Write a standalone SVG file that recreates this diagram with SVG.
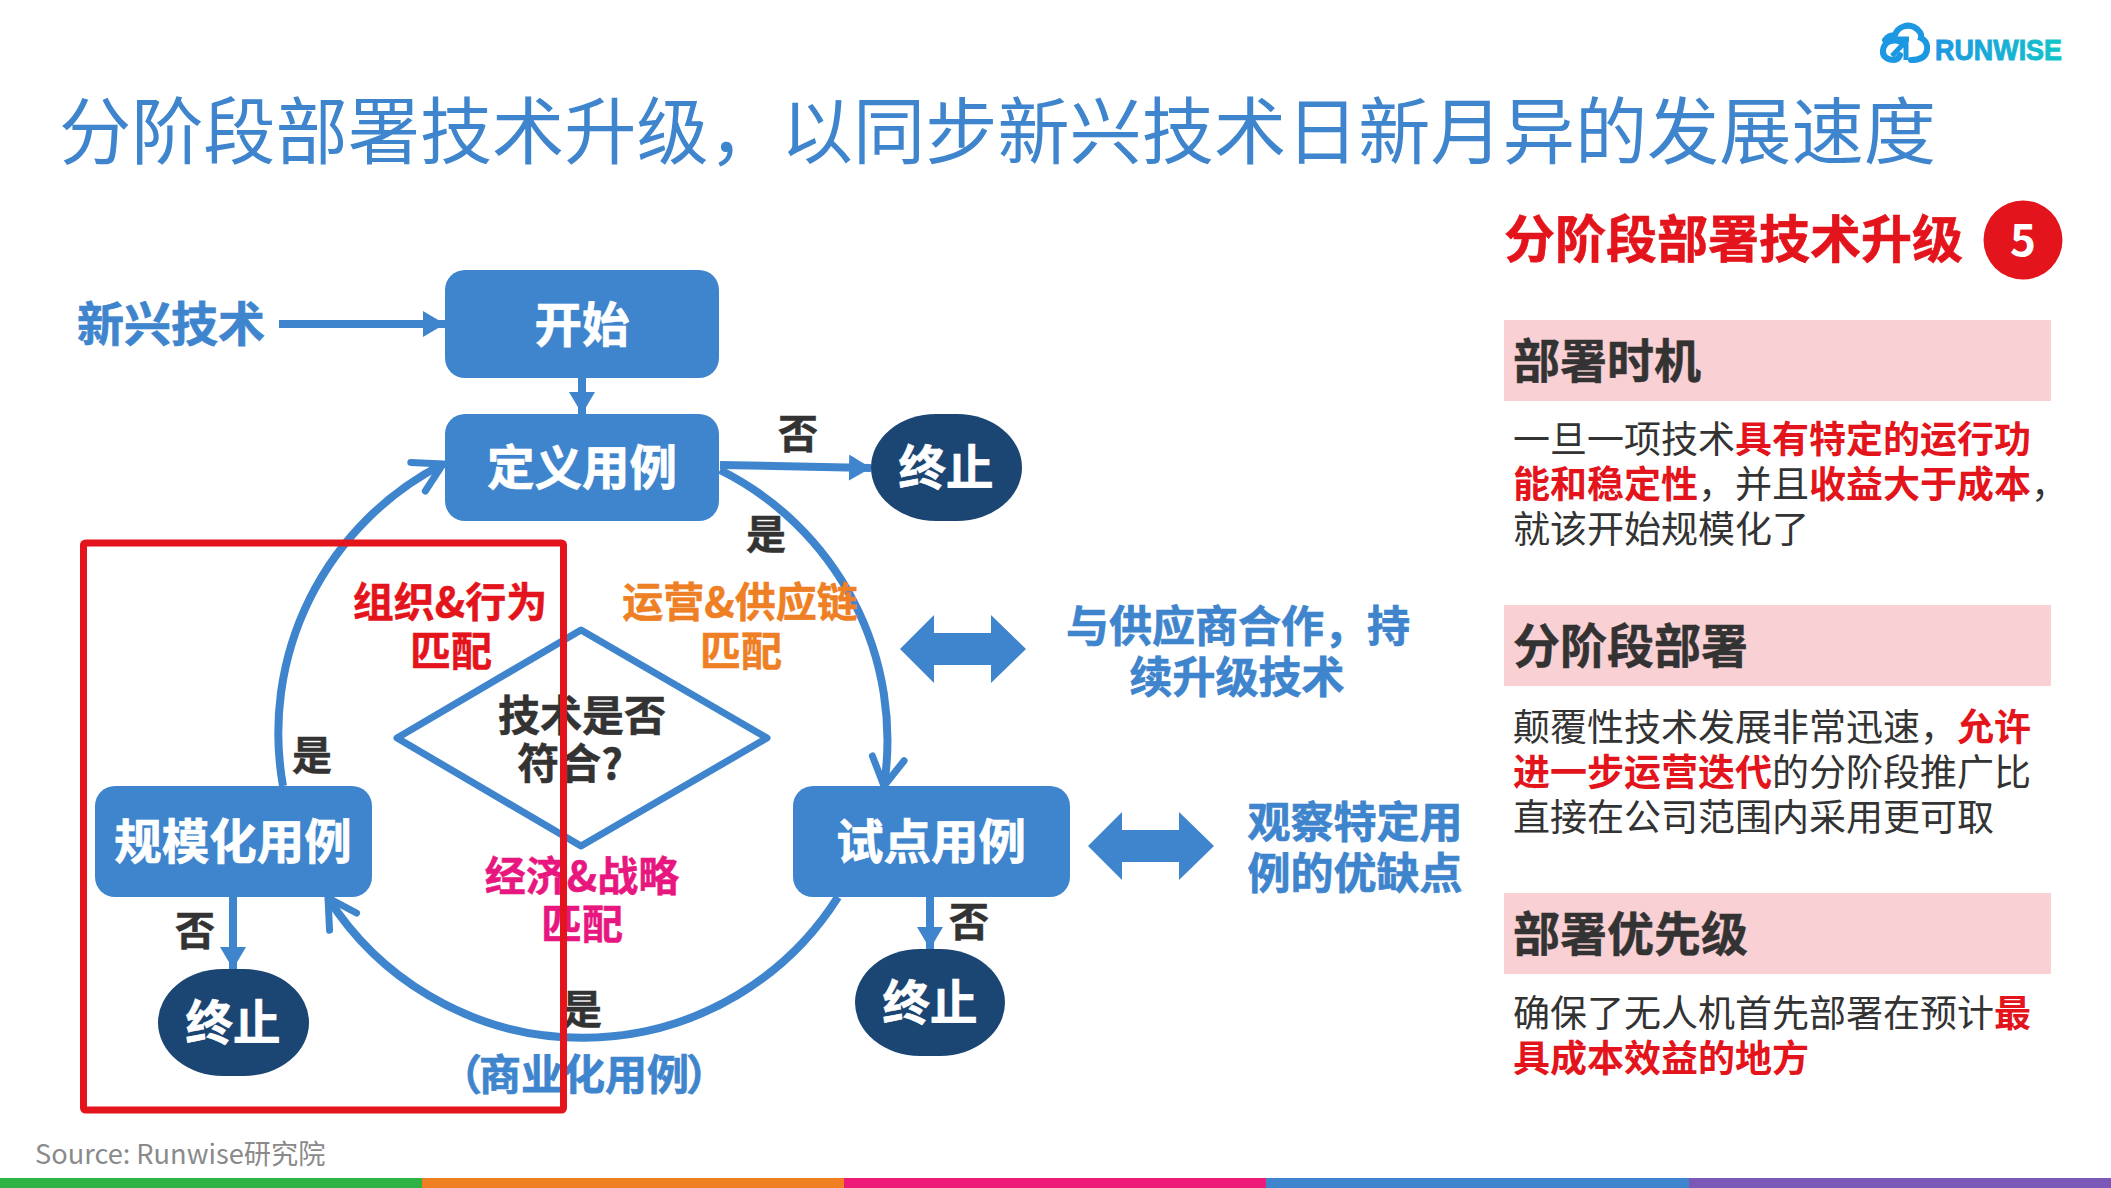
<svg xmlns="http://www.w3.org/2000/svg" width="2111" height="1188" viewBox="0 0 2111 1188">
<style>
text{font-family:"Noto Sans CJK SC","Noto Sans",sans-serif}
.b{font-weight:700}
.m{text-anchor:middle}
.box{fill:#3f85cd}
.end{fill:#1b4673}
.w{fill:#fff;stroke:#fff;stroke-width:.7;font-size:47.5px;font-weight:700;text-anchor:middle}
.blue{fill:#3f85cd;stroke:#3f85cd;stroke-width:.7;font-weight:700;font-size:43px;text-anchor:middle}
.lab{fill:#333;stroke:#333;stroke-width:.5;font-size:40px;font-weight:700;text-anchor:middle}
.lane{font-size:41px;font-weight:700;text-anchor:middle;stroke-width:.5}
.line{fill:none;stroke:#3f85cd;stroke-width:8}
.arc{fill:none;stroke:#3f85cd;stroke-width:8;marker-end:url(#chev)}
.st{marker-end:url(#tri)}
.hd{font-size:47px;font-weight:700;fill:#333;stroke:#333;stroke-width:.5}
.band{fill:#f9d0d3}
.body{font-size:37px;fill:#333}
.rd{fill:#e3141b;font-weight:700}
</style>
<defs>
<marker id="tri" markerUnits="userSpaceOnUse" markerWidth="24" markerHeight="28" refX="22" refY="13" orient="auto"><path d="M0,0L22,13L0,26Z" fill="#3f85cd"/></marker>
<marker id="chev" markerUnits="userSpaceOnUse" markerWidth="40" markerHeight="44" refX="32" refY="22" orient="auto" overflow="visible"><path d="M4,6L32,22L4,38" fill="none" stroke="#3f85cd" stroke-width="7" stroke-linecap="round"/></marker>
<linearGradient id="lg" x1="0" x2="1" y1="0" y2="0"><stop offset="0" stop-color="#1c97e2"/><stop offset="1" stop-color="#12c5c9"/></linearGradient>
</defs>
<rect width="2111" height="1188" fill="#fff"/>
<g id="logo">
<path d="M1901,42C1893,38 1884,42 1883,50C1882,57 1888,60 1894,60C1897,60 1899,58 1900,55M1885,40C1888,36 1892,35 1895,35C1898,26 1908,24 1914,27C1920,30 1922,35 1921,38C1926,40 1928,46 1927,50C1926,57 1920,60 1911,60" fill="none" stroke="#1c97e2" stroke-width="6" stroke-linecap="round"/>
<path d="M1906,60L1906,41M1892,56L1906,41M1896,39L1909,39" fill="none" stroke="#1c97e2" stroke-width="5"/>
<text x="1935" y="60" font-size="30" class="b" fill="url(#lg)" stroke="url(#lg)" stroke-width="1" textLength="127" lengthAdjust="spacingAndGlyphs" style="font-family:'Liberation Sans',sans-serif">RUNWISE</text>
</g>
<text id="title" x="59" y="158" font-size="72.2" fill="#3f85cd">分阶段部署技术升级，以同步新兴技术日新月异的发展速度</text>
<g id="connectors">
<path class="line st" d="M279,324H445"/>
<path class="line st" d="M582,378V414"/>
<path class="line st" d="M720,465L871,468"/>
<path class="line st" d="M233,897V969"/>
<path class="line st" d="M930,897V949"/>
<path class="arc" d="M720,470A302,302 0 0 1 884,786"/>
<path class="arc" d="M283,786A302,302 0 0 1 443,464"/>
<path class="arc" d="M838,897A302,302 0 0 1 328,898"/>
<path d="M900,649L934,615V633H991V615L1026,649L991,683V665H934V683Z" fill="#3f85cd"/>
<path d="M1088,846L1122,812V830H1179V812L1214,846L1179,880V862H1122V880Z" fill="#3f85cd"/>
</g>
<g id="source-label"><text class="blue" x="171" y="341" style="font-size:47px">新兴技术</text></g>
<g id="n-start"><rect class="box" x="445" y="270" width="274" height="108" rx="20"/><text class="w" x="582" y="342">开始</text></g>
<g id="n-define"><rect class="box" x="445" y="414" width="274" height="107" rx="20"/><text class="w" x="582" y="485">定义用例</text></g>
<g id="n-end1"><rect class="end" x="871" y="414" width="151" height="107" rx="65"/><text class="w" x="946" y="485">终止</text></g>
<g id="n-decision"><path d="M581,630L767,738L581,846L397,738Z" fill="#fff" stroke="#3f85cd" stroke-width="7" stroke-linejoin="round"/><text class="lab" x="582" y="731" style="font-size:42px">技术是否</text><text class="lab" x="570" y="779" style="font-size:42px">符合?</text></g>
<g id="n-scale"><rect class="box" x="95" y="786" width="277" height="111" rx="20"/><text class="w" x="233" y="859">规模化用例</text></g>
<g id="n-pilot"><rect class="box" x="793" y="786" width="277" height="111" rx="20"/><text class="w" x="931" y="859">试点用例</text></g>
<g id="n-end2"><rect class="end" x="158" y="969" width="151" height="107" rx="65"/><text class="w" x="233" y="1040">终止</text></g>
<g id="n-end3"><rect class="end" x="855" y="949" width="150" height="107" rx="65"/><text class="w" x="930" y="1020">终止</text></g>
<g id="labels">
<text class="lab" x="798" y="448">否</text>
<text class="lab" x="766" y="549">是</text>
<text class="lab" x="312" y="770">是</text>
<text class="lab" x="195" y="945">否</text>
<text class="lab" x="969" y="936">否</text>
<text class="lab" x="582" y="1024">是</text>
<text class="lane" fill="#e3141b" stroke="#e3141b" x="450" y="617">组织&amp;行为</text><text class="lane" fill="#e3141b" stroke="#e3141b" x="451" y="666">匹配</text>
<text class="lane" fill="#ee7f24" stroke="#ee7f24" x="740" y="617">运营&amp;供应链</text><text class="lane" fill="#ee7f24" stroke="#ee7f24" x="741" y="666">匹配</text>
<text class="lane" fill="#e8177f" stroke="#e8177f" x="582" y="891">经济&amp;战略</text><text class="lane" fill="#e8177f" stroke="#e8177f" x="582" y="939">匹配</text>
<text class="blue" x="584" y="1090" style="font-size:42px">（<tspan dx="-3">商业化用例</tspan><tspan dx="-3">）</tspan></text>
<text class="blue" x="1238" y="642">与供应商合作，持</text><text class="blue" x="1237" y="693">续升级技术</text>
<text class="blue" x="1355" y="838">观察特定用</text><text class="blue" x="1355" y="889">例的优缺点</text>
</g>
<rect id="highlight" x="83.500" y="543" width="480" height="567" rx="2" fill="none" stroke="#e3141b" stroke-width="7"/>
<g id="panel">
<text x="1504" y="258" font-size="51" class="b" fill="#e3141b" stroke="#e3141b" stroke-width=".6">分阶段部署技术升级</text>
<circle cx="2023" cy="240" r="39.500" fill="#e3141b"/><text x="2023" y="256" font-size="44" class="b m" fill="#fff">5</text>
<rect class="band" x="1504" y="320" width="547" height="81"/><text class="hd" x="1513" y="378">部署时机</text>
<text class="body" x="1513" y="453">一旦一项技术<tspan class="rd">具有特定的运行功</tspan></text>
<text class="body" x="1513" y="498"><tspan class="rd">能和稳定性</tspan>，并且<tspan class="rd">收益大于成本</tspan>，</text>
<text class="body" x="1513" y="543">就该开始规模化了</text>
<rect class="band" x="1504" y="605" width="547" height="81"/><text class="hd" x="1513" y="663">分阶段部署</text>
<text class="body" x="1513" y="741">颠覆性技术发展非常迅速，<tspan class="rd">允许</tspan></text>
<text class="body" x="1513" y="786"><tspan class="rd">进一步运营迭代</tspan>的分阶段推广比</text>
<text class="body" x="1513" y="831">直接在公司范围内采用更可取</text>
<rect class="band" x="1504" y="893" width="547" height="81"/><text class="hd" x="1513" y="951">部署优先级</text>
<text class="body" x="1513" y="1027">确保了无人机首先部署在预计<tspan class="rd">最</tspan></text>
<text class="body" x="1513" y="1072"><tspan class="rd">具成本效益的地方</tspan></text>
</g>
<text id="source" x="35" y="1164" font-size="27.200" fill="#8a8a8a">Source: Runwise研究院</text>
<g id="footer">
<rect x="0" y="1178" width="422" height="10" fill="#2fb344"/>
<rect x="422" y="1178" width="422" height="10" fill="#f07f22"/>
<rect x="844" y="1178" width="422" height="10" fill="#ee1a78"/>
<rect x="1266" y="1178" width="423" height="10" fill="#3f85cd"/>
<rect x="1689" y="1178" width="422" height="10" fill="#7b57b8"/>
</g>
</svg>
